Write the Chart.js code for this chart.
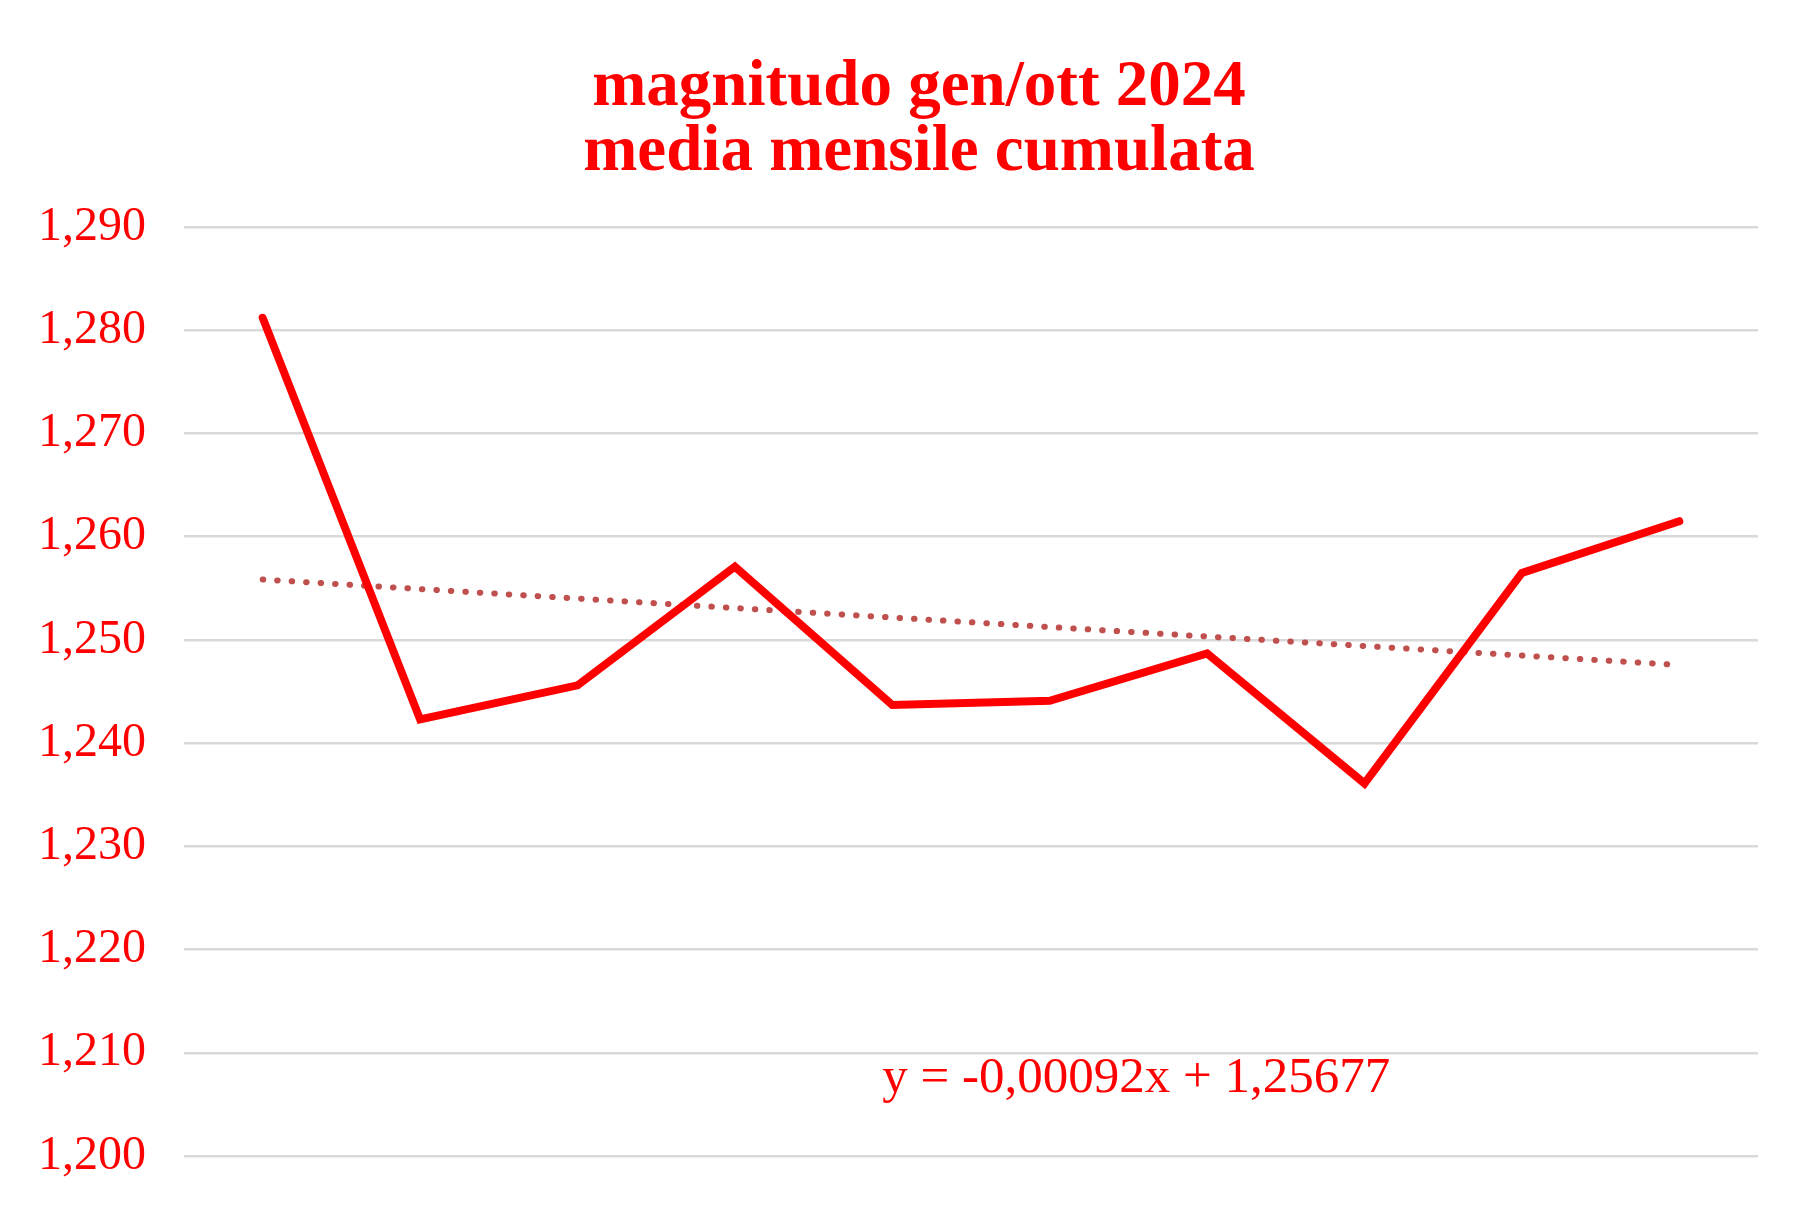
<!DOCTYPE html>
<html>
<head>
<meta charset="utf-8">
<script src="https://cdn.jsdelivr.net/npm/chart.js"></script>
<style>
  html, body { margin: 0; padding: 0; background: #fff; }
  #wrap { width: 1808px; height: 1208px; }
</style>
</head>
<body>
<div id="wrap"><canvas id="myChart"></canvas></div>
<script>
// mesi gen..ott 2024
let months = ["gen", "feb", "mar", "apr", "mag", "giu", "lug", "ago", "set", "ott"];
let media = [1.2812, 1.2423, 1.2456, 1.2571, 1.2437, 1.2441, 1.2487, 1.2361, 1.2565, 1.2615];
// coefficienti della linea di tendenza (dal grafico)
let slope = -0.00092;
let intercept = 1.25677;
let yTicks = [1.200, 1.210, 1.220, 1.230, 1.240, 1.250, 1.260, 1.270, 1.280, 1.290];

let trend = months.map(function (m, i) { return intercept + slope * (i + 1); });

function fmt(v, d) {
    return v.toFixed(d).replace(".", ",");
}

let eqText = "y = " + fmt(slope, 5) + "x + " + fmt(intercept, 5);

// scrive l'equazione della tendenza
const eqLabel = {
    id: "eqLabel",
    afterDatasetsDraw(chart) {
        const ctx = chart.ctx;
        const x = chart.scales.x;
        const y = chart.scales.y;
        const px = x.getPixelForValue(5) + 0.55 * (x.getPixelForValue(1) - x.getPixelForValue(0));
        const py = y.getPixelForValue(1.2075);
        ctx.save();
        ctx.font = "51px 'Liberation Serif'";
        ctx.fillStyle = "#FF0000";
        ctx.textAlign = "center";
        ctx.textBaseline = "middle";
        ctx.fillText(eqText, px, py);
        ctx.restore();
    }
};

new Chart("myChart", {
    type: "line",
    data: {
        labels: months,
        datasets: [{
                data: media,
                borderColor: "#FF0000",
                borderWidth: 8,
                borderCapStyle: "round",
                borderJoinStyle: "miter",
                pointRadius: 0,
                tension: 0
            }, {
                data: trend,
                borderColor: "#C0504D",
                borderWidth: 6,
                borderDash: [0.5, 14],
                borderCapStyle: "round",
                pointRadius: 0,
                tension: 0
            }]
    },
    options: {
        responsive: true,
        maintainAspectRatio: false,
        animation: false,
        layout: {padding: {top: 56, right: 0, bottom: 16, left: 30}},
        plugins: {
            legend: {display: false},
            tooltip: {enabled: false},
            title: {
                display: true,
                text: ["magnitudo gen/ott 2024", "media mensile cumulata"],
                color: "#FF0000",
                font: {family: "'Liberation Serif'", size: 65, weight: "bold", lineHeight: 1.0},
                padding: {top: 0, bottom: 41}
            }
        },
        scales: {
            x: {
                display: false,
                offset: true
            },
            y: {
                min: 1.2,
                max: 1.29,
                afterBuildTicks: function (axis) {
                    axis.ticks = yTicks.map(function (v) { return {value: v}; });
                },
                afterFit: function (axis) {
                    axis.width = axis.width - 30;
                },
                grid: {color: "#D9D9D9", lineWidth: 2.5, drawTicks: false},
                border: {display: false},
                ticks: {
                    color: "#FF0000",
                    padding: 38,
                    font: {family: "'Liberation Serif'", size: 48, lineHeight: 0.58},
                    callback: function (v) { return fmt(v, 3); }
                }
            },
            // spazio vuoto a destra
            yRight: {
                position: "right",
                grid: {display: false},
                border: {display: false},
                ticks: {display: false},
                afterFit: function (axis) {
                    axis.width = 50;
                }
            }
        }
    },
    plugins: [eqLabel]
});
</script>
</body>
</html>
